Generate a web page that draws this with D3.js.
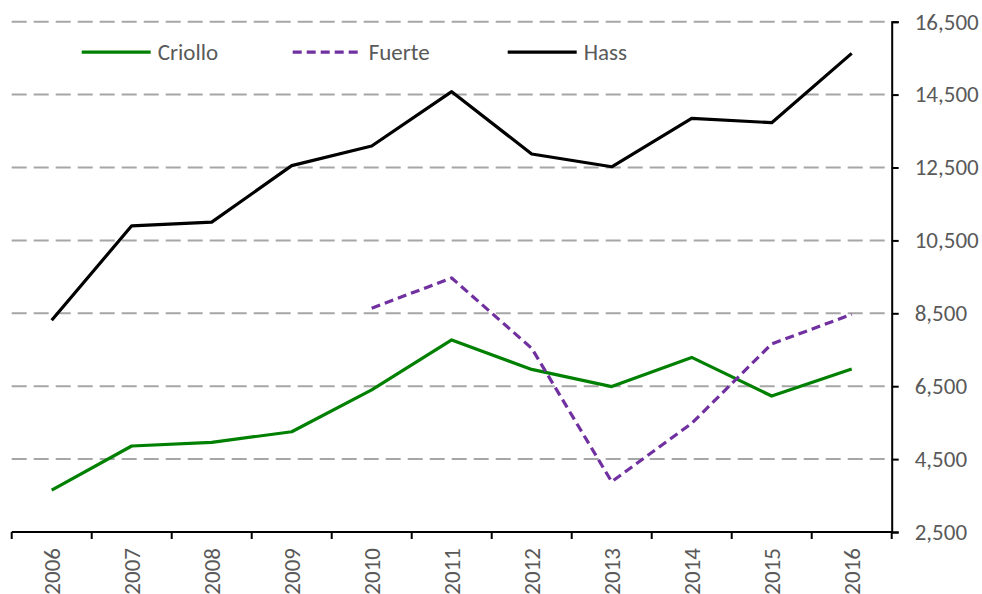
<!DOCTYPE html>
<html>
<head>
<meta charset="utf-8">
<script src="https://cdn.jsdelivr.net/npm/d3@7"></script>
<style>
  body { margin: 0; background: #fff; }
  svg text { font-family: Calibri, Carlito, Lato, sans-serif; fill: #595959; }
</style>
</head>
<body>
<div id="chart"></div>
<script>
const years = ["2006", "2007", "2008", "2009", "2010", "2011", "2012", "2013", "2014", "2015", "2016"];
const criollo = [3650, 4860, 4960, 5250, 6400, 7770, 6960, 6490, 7290, 6230, 6970];
const fuerte = [null, null, null, null, 8640, 9470, 7540, 3880, 5480, 7660, 8470];
const hass = [8310, 10900, 11000, 12550, 13090, 14580, 12870, 12520, 13850, 13730, 15630];
const yTicks = [2500, 4500, 6500, 8500, 10500, 12500, 14500, 16500];

const seriesList = [
    {name: "Criollo", values: criollo, color: "#008000", dash: null},
    {name: "Fuerte", values: fuerte, color: "#7030A0", dash: "9,5"},
    {name: "Hass", values: hass, color: "#000000", dash: null}
];

const W = 982, H = 594;
const margin = {top: 21.7, right: 90.3, bottom: 62, left: 11.7};
const width = W - margin.left - margin.right;
const height = H - margin.top - margin.bottom;

const svg = d3.select("#chart")
    .append("svg")
    .attr("width", W)
    .attr("height", H)
    .append("g")
    .attr("transform", `translate(${margin.left}, ${margin.top})`);

const x = d3.scaleBand()
    .domain(years)
    .range([0, width]);

const y = d3.scaleLinear()
    .domain([2500, 16500])
    .range([height, 0]);

// dashed gridlines
svg.append("g")
    .selectAll("line")
    .data(yTicks.filter(d => d > 2500))
    .enter()
    .append("line")
    .attr("x1", 0)
    .attr("x2", width)
    .attr("y1", d => y(d))
    .attr("y2", d => y(d))
    .attr("stroke", "#a6a6a6")
    .attr("stroke-width", 2)
    .attr("stroke-dasharray", "15,7");

// lines
const line = d3.line()
    .defined(d => d.v != null)
    .x(d => x(d.year) + x.bandwidth() / 2)
    .y(d => y(d.v));

seriesList.forEach(s => {
    svg.append("path")
        .datum(years.map((yr, i) => ({year: yr, v: s.values[i]})))
        .attr("d", line)
        .attr("fill", "none")
        .attr("stroke", s.color)
        .attr("stroke-width", 3.2)
        .attr("stroke-linejoin", "round")
        .attr("stroke-dasharray", s.dash);
});

// x axis with ticks at band edges
const xAxis = svg.append("g")
    .attr("transform", `translate(0, ${height})`);
xAxis.append("line")
    .attr("x1", 0).attr("x2", width)
    .attr("stroke", "#000").attr("stroke-width", 2);
xAxis.selectAll(".tick")
    .data(years.concat(["end"]))
    .enter()
    .append("line")
    .attr("x1", (d, i) => i * x.step())
    .attr("x2", (d, i) => i * x.step())
    .attr("y1", 0).attr("y2", 7)
    .attr("stroke", "#000").attr("stroke-width", 2);
xAxis.selectAll("text")
    .data(years)
    .enter()
    .append("text")
    .attr("transform", d => `translate(${x(d) + x.bandwidth() / 2}, 16) rotate(-90)`)
    .attr("text-anchor", "end")
    .attr("dy", "0.36em")
    .style("font-size", "23px")
    .text(d => d);

// right y axis
const yAxis = svg.append("g")
    .attr("transform", `translate(${width}, 0)`)
    .call(d3.axisRight(y).tickValues(yTicks).tickSize(7).tickPadding(16).tickFormat(d3.format(",")));
yAxis.select(".domain").attr("stroke", "#000").attr("stroke-width", 2);
yAxis.selectAll(".tick line").attr("stroke", "#000").attr("stroke-width", 2);
yAxis.selectAll(".tick text")
    .style("font-size", "23px")
    .attr("fill", "#595959");

// legend
const legendPos = [70, 281, 496];
const legend = svg.append("g");
seriesList.forEach((s, i) => {
    const lx = legendPos[i];
    legend.append("line")
        .attr("x1", lx).attr("x2", lx + 69)
        .attr("y1", 30.5).attr("y2", 30.5)
        .attr("stroke", s.color)
        .attr("stroke-width", 3.2)
        .attr("stroke-dasharray", s.dash);
    legend.append("text")
        .attr("x", lx + 76)
        .attr("y", 30.5)
        .attr("dy", "0.35em")
        .style("font-size", "23px")
        .text(s.name);
});
</script>
</body>
</html>
